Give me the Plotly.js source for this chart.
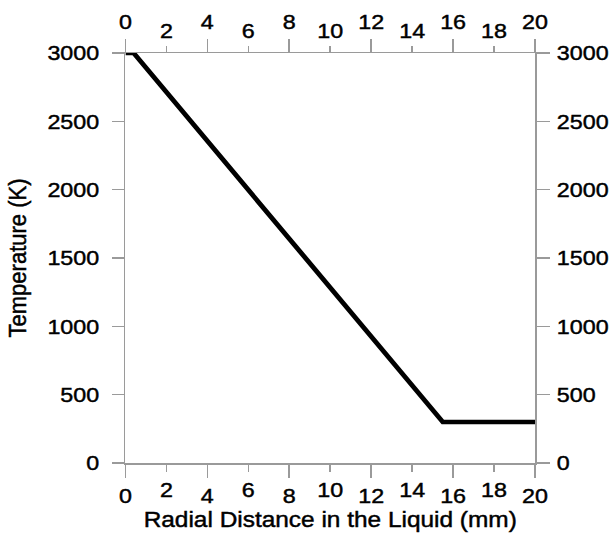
<!DOCTYPE html>
<html>
<head>
<meta charset="utf-8">
<script src="https://cdn.plot.ly/plotly-3.0.1.min.js"></script>
<style>
html,body{margin:0;padding:0;background:#fff;overflow:hidden;}
/* the reference is horizontally stretched by ~11% */
#chart{width:550px;height:541px;transform:scaleX(1.11);transform-origin:0 0;}
/* slightly heavier glyphs, as in the reference */
#chart svg text{stroke:#000;stroke-width:0.45px;}
</style>
</head>
<body>
<div id="chart"></div>
<script>
// Data
const radialDistance = [0, 0.4, 15.5, 20];       // mm
const temperature    = [3000, 3000, 300, 300];   // K

// Tick values / labels
const xTicksMajor = [0, 4, 8, 12, 16, 20];
const xTicksMinor = [2, 6, 10, 14, 18];
const yTicks = [0, 500, 1000, 1500, 2000, 2500, 3000];

const xTitle = 'Radial Distance in the Liquid (mm)';
const yTitle = 'Temperature (K)';

const axisColor = '#9a9a9a';
const fontFam = '"Liberation Sans", Arial, sans-serif';
const tickFont = {family: fontFam, size: 21, color: '#000'};
const titleFont = {family: fontFam, size: 22, color: '#000'};

const baseX = {
  range: [0, 20], showgrid: false, zeroline: false,
  linecolor: axisColor, linewidth: 1.5,
  ticks: 'outside', tickcolor: axisColor, tickwidth: 1.4,
  tickmode: 'array', tickfont: tickFont, fixedrange: true
};
const baseY = {
  range: [0, 3000], showgrid: false, zeroline: false,
  showline: true, linecolor: axisColor, linewidth: 1.4,
  ticks: 'outside', tickcolor: axisColor, tickwidth: 1.5,
  tickmode: 'array', tickvals: yTicks, ticktext: yTicks.map(String),
  tickfont: tickFont, fixedrange: true
};

const trace = {
  x: radialDistance, y: temperature,
  type: 'scatter', mode: 'lines',
  line: {color: '#000', width: 4.5},
  xaxis: 'x', yaxis: 'y', showlegend: false, hoverinfo: 'skip'
};
// invisible copies so the overlay axes (top / right / minor labels) are drawn
function ghost(xa, ya) {
  return {x: radialDistance, y: temperature, type: 'scatter', mode: 'lines',
    line: {color: 'rgba(0,0,0,0)', width: 0}, xaxis: xa, yaxis: ya,
    showlegend: false, hoverinfo: 'skip'};
}

const layout = {
  width: 550, height: 541,
  margin: {l: 112.6, r: 68.4, t: 53, b: 78},
  paper_bgcolor: '#fff', plot_bgcolor: '#fff',
  showlegend: false,
  xaxis: Object.assign({}, baseX, {
    side: 'bottom', anchor: 'y', showline: true,
    tickvals: xTicksMajor, ticktext: xTicksMajor.map(String), ticklen: 13,
    title: {text: xTitle, font: titleFont, standoff: 5}
  }),
  xaxis2: Object.assign({}, baseX, {
    side: 'bottom', overlaying: 'x', anchor: 'y', showline: false,
    tickvals: xTicksMinor, ticktext: xTicksMinor.map(String), ticklen: 8
  }),
  xaxis3: Object.assign({}, baseX, {
    side: 'top', overlaying: 'x', anchor: 'y', showline: true,
    tickvals: xTicksMajor, ticktext: xTicksMajor.map(String), ticklen: 13,
    ticklabelstandoff: 1
  }),
  xaxis4: Object.assign({}, baseX, {
    side: 'top', overlaying: 'x', anchor: 'y', showline: false,
    tickvals: xTicksMinor, ticktext: xTicksMinor.map(String), ticklen: 6
  }),
  yaxis: Object.assign({}, baseY, {
    side: 'left', ticklen: 11, ticklabelstandoff: 7,
    title: {text: yTitle, font: titleFont, standoff: 12}
  }),
  yaxis2: Object.assign({}, baseY, {
    side: 'right', overlaying: 'y', anchor: 'x', ticklen: 12, ticklabelstandoff: 2
  })
};

Plotly.newPlot('chart',
  [trace, ghost('x2', 'y'), ghost('x3', 'y'), ghost('x4', 'y'), ghost('x', 'y2')],
  layout, {staticPlot: true, displayModeBar: false});
</script>
</body>
</html>
